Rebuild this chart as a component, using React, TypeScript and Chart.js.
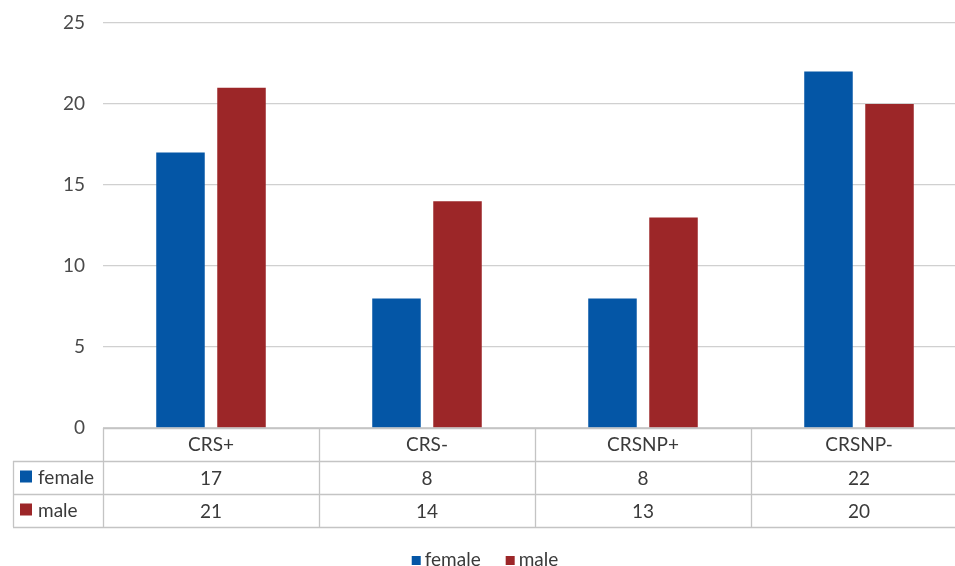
import React, { useEffect, useRef } from "react";
import { Chart, registerables } from "chart.js";

Chart.register(...registerables);

const categories = ["CRS+", "CRS-", "CRSNP+", "CRSNP-"];
const femaleValues = [17, 8, 8, 22];
const maleValues = [21, 14, 13, 20];
const seriesNames = ["female", "male"];
const seriesColors = ["#0456a6", "#9c2628"];
const yTicks = [0, 5, 10, 15, 20, 25];

const FONT = "Lato, 'Open Sans', sans-serif";
const TEXT = "#3a3a3a";
const LINE = "#c4c4c4";

const tablePlugin = {
  id: "dataTable",
  afterDraw(chart: any) {
    const ctx = chart.ctx;
    const ca = chart.chartArea;
    const xs = chart.scales.x;
    const n = categories.length;
    const cw = (ca.right - ca.left) / n;
    const top = ca.bottom;
    const rowH = 33;
    const yRows = [top, top + rowH, top + 2 * rowH, top + 3 * rowH];
    const leftEdge = 13;
    ctx.save();
    ctx.strokeStyle = LINE;
    ctx.lineWidth = 1.3;
    ctx.beginPath();
    ctx.moveTo(ca.left, yRows[0] + 0.5);
    ctx.lineTo(chart.width, yRows[0] + 0.5);
    for (let r = 1; r < 4; r++) {
      ctx.moveTo(leftEdge, yRows[r] + 0.5);
      ctx.lineTo(chart.width, yRows[r] + 0.5);
    }
    ctx.moveTo(leftEdge + 0.5, yRows[1]);
    ctx.lineTo(leftEdge + 0.5, yRows[3]);
    for (let i = 0; i <= n; i++) {
      const x = Math.round(ca.left + i * cw) + 0.5;
      ctx.moveTo(x, yRows[0]);
      ctx.lineTo(x, yRows[3]);
    }
    ctx.stroke();

    ctx.fillStyle = TEXT;
    ctx.font = `19px ${FONT}`;
    ctx.textAlign = "center";
    ctx.textBaseline = "middle";
    const seriesData = [femaleValues, maleValues];
    for (let i = 0; i < n; i++) {
      const cx = xs.getPixelForValue(i);
      ctx.fillText(categories[i], cx, yRows[0] + rowH / 2);
      for (let s = 0; s < 2; s++) {
        ctx.fillText(String(seriesData[s][i]), cx, yRows[s + 1] + rowH / 2 + 1);
      }
    }
    ctx.textAlign = "left";
    for (let s = 0; s < 2; s++) {
      const cy = yRows[s + 1] + rowH / 2;
      ctx.fillStyle = seriesColors[s];
      ctx.fillRect(20, cy - 7, 12, 12);
      ctx.fillStyle = TEXT;
      ctx.fillText(seriesNames[s], 38, cy);
    }

    // legend
    const ly = 560;
    ctx.font = `19px ${FONT}`;
    const sq = 9;
    const gap = 4;
    const between = 25;
    const w0 = ctx.measureText(seriesNames[0]).width;
    const w1 = ctx.measureText(seriesNames[1]).width;
    const total = sq + gap + w0 + between + sq + gap + w1;
    let lx = 485 - total / 2;
    for (let s = 0; s < 2; s++) {
      ctx.fillStyle = seriesColors[s];
      ctx.fillRect(lx, ly - 4, sq, sq);
      lx += sq + gap;
      ctx.fillStyle = TEXT;
      ctx.fillText(seriesNames[s], lx, ly);
      lx += (s === 0 ? w0 : w1) + between;
    }
    ctx.restore();
  },
};

export default function App() {
  const ref = useRef<HTMLCanvasElement>(null);
  useEffect(() => {
    if (!ref.current) return;
    const chart = new Chart(ref.current, {
      type: "bar",
      data: {
        labels: categories,
        datasets: [
          {
            label: seriesNames[0],
            data: femaleValues,
            backgroundColor: seriesColors[0],
            categoryPercentage: 0.565,
            barPercentage: 0.795,
          },
          {
            label: seriesNames[1],
            data: maleValues,
            backgroundColor: seriesColors[1],
            categoryPercentage: 0.565,
            barPercentage: 0.795,
          },
        ],
      },
      options: {
        animation: false,
        responsive: false,
        devicePixelRatio: 1,
        layout: { padding: { top: 23, bottom: 39, left: 0, right: 13 } },
        plugins: {
          legend: { display: false },
          tooltip: { enabled: false },
        },
        scales: {
          x: {
            grid: { display: false },
            border: { display: false },
            ticks: { display: false },
            afterFit: (s: any) => {
              s.height = 99;
            },
          },
          y: {
            min: 0,
            max: 25,
            afterBuildTicks: (s: any) => {
              s.ticks = yTicks.map((v) => ({ value: v }));
            },
            grid: { color: "#d0d0d0", lineWidth: 1.3, drawTicks: false },
            border: { display: false },
            ticks: {
              padding: 18,
              color: "#4a4a4a",
              font: { family: FONT, size: 19 },
            },
            afterFit: (s: any) => {
              s.width = 103;
              s.paddingTop = 0;
              s.paddingBottom = 0;
            },
          },
        },
      },
      plugins: [tablePlugin],
    });
    return () => chart.destroy();
  }, []);
  return (
    <div
      style={{
        position: "fixed",
        left: 0,
        top: 0,
        width: 955,
        height: 566,
        overflow: "hidden",
        background: "#fff",
      }}
    >
      <canvas ref={ref} width={980} height={566} style={{ width: 980, height: 566, display: "block" }} />
    </div>
  );
}
